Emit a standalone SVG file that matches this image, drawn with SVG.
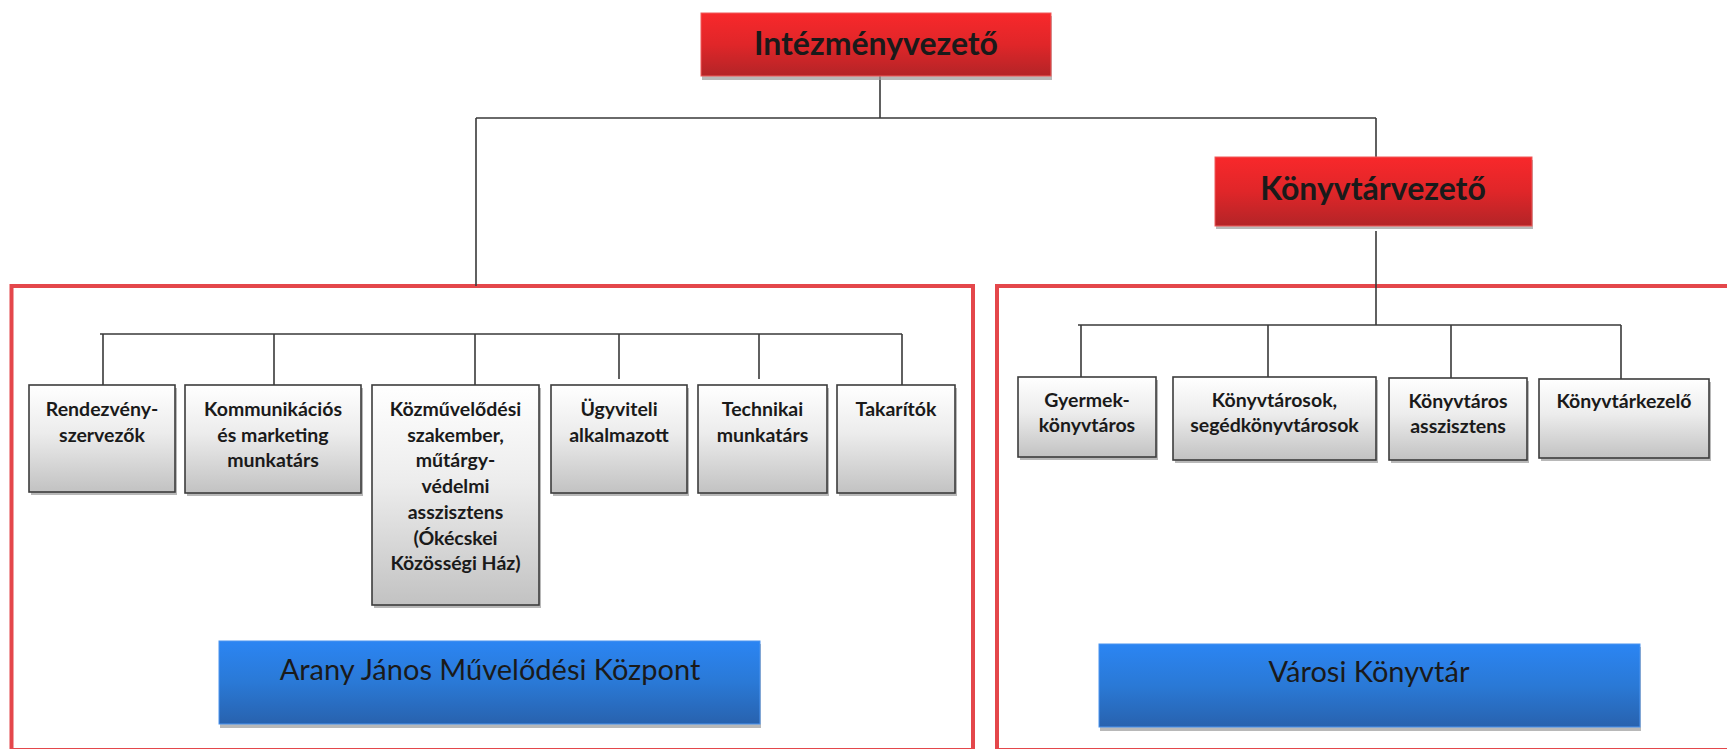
<svg xmlns="http://www.w3.org/2000/svg" width="1727" height="749" viewBox="0 0 1727 749">
<defs>
<linearGradient id="gRed" x1="0" y1="0" x2="0" y2="1">
<stop offset="0" stop-color="#f8282b"/><stop offset="0.5" stop-color="#e02629"/><stop offset="1" stop-color="#b32427"/>
</linearGradient>
<linearGradient id="gBlue" x1="0" y1="0" x2="0" y2="1">
<stop offset="0" stop-color="#2b85f3"/><stop offset="0.5" stop-color="#2a79d6"/><stop offset="1" stop-color="#2862ae"/>
</linearGradient>
<linearGradient id="gGray" x1="0" y1="0" x2="0" y2="1">
<stop offset="0" stop-color="#ffffff"/><stop offset="0.45" stop-color="#ececec"/><stop offset="1" stop-color="#c2c2c2"/>
</linearGradient>
<style>
.frame{fill:none;stroke:#e4474b;stroke-width:4}
.conn{fill:none;stroke:#3a3a3a;stroke-width:1.6}
.shadow{fill:#9a9a9a;opacity:0.7}
.red{fill:url(#gRed);stroke:#f05a5a;stroke-width:1}
.blue{fill:url(#gBlue);stroke:#4a94f0;stroke-width:1}
.box{fill:url(#gGray);stroke:#3c3c3c;stroke-width:1.6}
.title{font-family:Lato,"Liberation Sans",sans-serif;font-weight:bold;font-size:32px;fill:#1a1a1a;text-anchor:middle}
.unit{font-family:Lato,"Liberation Sans",sans-serif;font-size:29px;fill:#1a1a1a;text-anchor:middle}
.lbl{font-family:Lato,"Liberation Sans",sans-serif;font-weight:bold;font-size:19.5px;fill:#1a1a1a;text-anchor:middle}
</style>
</defs>
<rect width="1727" height="749" fill="#ffffff"/>

<g id="frames">
<rect class="frame" x="11.5" y="286" width="961.5" height="464"/>
<rect class="frame" x="997" y="286" width="760" height="464"/>
</g>

<g id="connectors">
<path class="conn" d="M880 76 V118 M476 118 H1376 M476 118 V286 M1376 118 V157"/>
<path class="conn" d="M1376 231 V325 M1078 325 H1621 M1081 325 V377 M1268 325 V377 M1451 325 V378 M1621 325 V379"/>
<path class="conn" d="M100 334 H902 M103 334 V385 M274 334 V385 M475 334 V385 M619 334 V379 M759 334 V379 M902 334 V386"/>
</g>

<g id="intezmenyvezeto">
<rect class="shadow" x="702" y="16" width="350" height="64"/>
<rect class="red" x="701" y="13" width="350" height="63"/>
<text class="title" x="876" y="55">Intézményvezető</text>
</g>

<g id="konyvtarvezeto">
<rect class="shadow" x="1216" y="160" width="317" height="69"/>
<rect class="red" x="1215" y="157" width="317" height="69"/>
<text class="title" x="1373" y="200">Könyvtárvezető</text>
</g>

<g id="rendezvenyszervezok">
<rect class="shadow" x="31" y="388" width="146" height="107"/>
<rect class="box" x="29" y="385" width="146" height="107"/>
<text class="lbl" x="102" y="416">Rendezvény-</text>
<text class="lbl" x="102" y="441.5">szervezők</text>
</g>

<g id="kommunikacios">
<rect class="shadow" x="187" y="388" width="176" height="108"/>
<rect class="box" x="185" y="385" width="176" height="108"/>
<text class="lbl" x="273" y="416">Kommunikációs</text>
<text class="lbl" x="273" y="441.5">és marketing</text>
<text class="lbl" x="273" y="467">munkatárs</text>
</g>

<g id="kozmuvelodesi">
<rect class="shadow" x="374" y="388" width="167" height="220"/>
<rect class="box" x="372" y="385" width="167" height="220"/>
<text class="lbl" x="455.5" y="416">Közművelődési</text>
<text class="lbl" x="455.5" y="441.7">szakember,</text>
<text class="lbl" x="455.5" y="467.4">műtárgy-</text>
<text class="lbl" x="455.5" y="493.1">védelmi</text>
<text class="lbl" x="455.5" y="518.8">asszisztens</text>
<text class="lbl" x="455.5" y="544.5">(Ókécskei</text>
<text class="lbl" x="455.5" y="570.2">Közösségi Ház)</text>
</g>

<g id="ugyviteli">
<rect class="shadow" x="553" y="388" width="136" height="108"/>
<rect class="box" x="551" y="385" width="136" height="108"/>
<text class="lbl" x="619" y="416">Ügyviteli</text>
<text class="lbl" x="619" y="441.5">alkalmazott</text>
</g>

<g id="technikai">
<rect class="shadow" x="700" y="388" width="129" height="108"/>
<rect class="box" x="698" y="385" width="129" height="108"/>
<text class="lbl" x="762.5" y="416">Technikai</text>
<text class="lbl" x="762.5" y="441.5">munkatárs</text>
</g>

<g id="takaritok">
<rect class="shadow" x="839" y="388" width="118" height="108"/>
<rect class="box" x="837" y="385" width="118" height="108"/>
<text class="lbl" x="896" y="416">Takarítók</text>
</g>

<g id="gyermekkonyvtaros">
<rect class="shadow" x="1020" y="380" width="138" height="80"/>
<rect class="box" x="1018" y="377" width="138" height="80"/>
<text class="lbl" x="1087" y="407">Gyermek-</text>
<text class="lbl" x="1087" y="432">könyvtáros</text>
</g>

<g id="konyvtarosok">
<rect class="shadow" x="1175" y="380" width="203" height="83"/>
<rect class="box" x="1173" y="377" width="203" height="83"/>
<text class="lbl" x="1274.5" y="407">Könyvtárosok,</text>
<text class="lbl" x="1274.5" y="432">segédkönyvtárosok</text>
</g>

<g id="konyvtarosasszisztens">
<rect class="shadow" x="1391" y="381" width="138" height="82"/>
<rect class="box" x="1389" y="378" width="138" height="82"/>
<text class="lbl" x="1458" y="408">Könyvtáros</text>
<text class="lbl" x="1458" y="433">asszisztens</text>
</g>

<g id="konyvtarkezelo">
<rect class="shadow" x="1541" y="382" width="170" height="79"/>
<rect class="box" x="1539" y="379" width="170" height="79"/>
<text class="lbl" x="1624" y="408">Könyvtárkezelő</text>
</g>

<g id="aranyjanos">
<rect class="shadow" x="220" y="644" width="541" height="84"/>
<rect class="blue" x="219" y="641" width="541" height="83"/>
<text class="unit" x="490" y="680">Arany János Művelődési Központ</text>
</g>

<g id="varosikonyvtar">
<rect class="shadow" x="1100" y="647" width="541" height="84"/>
<rect class="blue" x="1099" y="644" width="541" height="83"/>
<text class="unit" x="1369" y="682">Városi Könyvtár</text>
</g>
</svg>
